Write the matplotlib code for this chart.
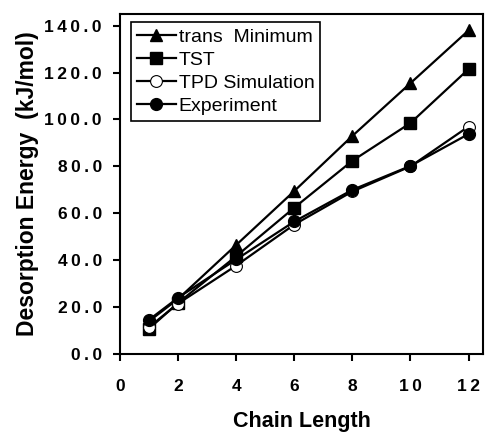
import numpy as np
import matplotlib
matplotlib.use("Agg")
import matplotlib.pyplot as plt

# data
chain = [1, 2, 4, 6, 8, 10, 12]
trans_min = [14.0, 23.5, 46.5, 69.5, 93.0, 115.5, 138.0]
tst = [10.8, 21.8, 41.7, 62.4, 82.4, 98.5, 121.5]
tpd_sim = [11.5, 21.5, 37.7, 55.2, 69.3, 80.0, 97.0]
experiment = [14.6, 24.0, 40.3, 56.5, 70.0, 80.2, 93.8]

xticks = [0, 2, 4, 6, 8, 10, 12]
yticks = [0, 20, 40, 60, 80, 100, 120, 140]

plt.rcParams['font.family'] = ['Liberation Sans', 'DejaVu Sans']


def spaced(s):
    # the original tick labels are drawn with wide letter spacing
    return '\u2009'.join(s)


fig = plt.figure(figsize=(4.86, 4.37), dpi=100)
ax = fig.add_axes([0.247, 0.190, 0.747, 0.778])

lw = 1.6
ax.plot(chain, trans_min, '-', color='black', lw=lw, marker='^', ms=9, label='trans  Minimum')
ax.plot(chain, tst, '-', color='black', lw=lw, marker='s', ms=8.5, label='TST')
ax.plot(chain, tpd_sim, '-', color='black', lw=lw, marker='o', ms=8.5,
        mfc='white', mec='black', mew=0.8, label='TPD Simulation')
ax.plot(chain, experiment, '-', color='black', lw=lw, marker='o', ms=8.5, label='Experiment')

ax.set_xlim(0, 12.5)
ax.set_ylim(0, 145)
ax.set_xticks(xticks)
ax.set_yticks(yticks)
ax.set_xticklabels([spaced(str(v)) for v in xticks], fontsize=12.5, fontweight='bold')
ax.set_yticklabels([spaced('%.1f' % v) for v in yticks], fontsize=12.5, fontweight='bold')
ax.tick_params(direction='out', length=5, width=1.5)
ax.tick_params(axis='x', pad=13)
ax.tick_params(axis='y', pad=8)
for s in ax.spines.values():
    s.set_linewidth(1.5)

ax.set_xlabel('Chain Length', fontsize=15.5, fontweight='bold', labelpad=12)
ax.set_ylabel('Desorption Energy  (kJ/mol)', fontsize=16.5, fontweight='bold', labelpad=4)

leg = ax.legend(loc='upper left', bbox_to_anchor=(0.03, 0.975), fontsize=14,
                handlelength=2.0, handletextpad=0.15, labelspacing=0.28,
                borderpad=0.3, borderaxespad=0.0, fancybox=False, framealpha=1)
leg.get_frame().set_edgecolor('black')
leg.get_frame().set_linewidth(1.2)

fig.savefig('out.png', dpi=100)
